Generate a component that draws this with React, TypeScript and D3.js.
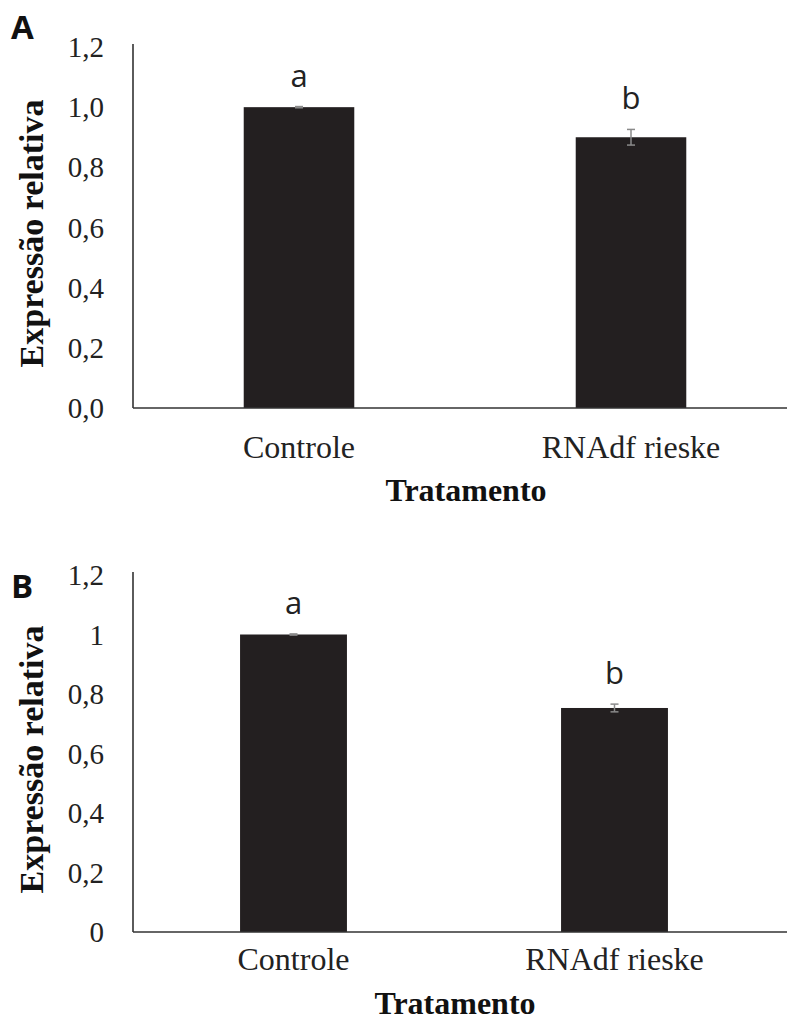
import { useEffect, useRef } from 'react';
import * as d3 from 'd3';

// shared categories
const categories = ['Controle', 'RNAdf rieske'];
const letters = ['a', 'b'];

// panel A
const valuesA = [1.0, 0.9];
const errorsA = [0.002, 0.026];
const ticksA = [0, 0.2, 0.4, 0.6, 0.8, 1.0, 1.2];
const tickLabelsA = ['0,0', '0,2', '0,4', '0,6', '0,8', '1,0', '1,2'];

// panel B
const valuesB = [1.0, 0.753];
const errorsB = [0.002, 0.013];
const ticksB = [0, 0.2, 0.4, 0.6, 0.8, 1.0, 1.2];
const tickLabelsB = ['0', '0,2', '0,4', '0,6', '0,8', '1', '1,2'];

const SERIF = '"Liberation Serif", "Times New Roman", serif';
const SANS = '"Open Sans", "Liberation Sans", sans-serif';

interface PanelCfg {
  tag: string;
  values: number[];
  errors: number[];
  ticks: number[];
  tickLabels: string[];
  top: number;     // y of 1.2
  base: number;    // y of 0
  xEnd: number;    // right end of category range
  tagY: number;
  catDy: number;
  titleDy: number;
}

function drawPanel(svg: d3.Selection<SVGSVGElement, unknown, null, undefined>, p: PanelCfg) {
  const x0 = 133;
  const x = d3.scaleBand<string>().domain(categories).range([x0, p.xEnd]).padding(0);
  const y = d3.scaleLinear().domain([0, 1.2]).range([p.base, p.top]);
  const bw = x.bandwidth() * 0.333;

  const g = svg.append('g');

  // panel tag
  g.append('text').attr('x', 11).attr('y', p.tagY).attr('font-family', SANS).attr('font-weight', 700)
    .attr('font-size', 33).attr('fill', '#111').text(p.tag);

  // bars
  categories.forEach((c, i) => {
    const cx = x(c)! + x.bandwidth() / 2;
    g.append('rect').attr('x', cx - bw / 2).attr('y', y(p.values[i]))
      .attr('width', bw).attr('height', p.base - y(p.values[i])).attr('fill', '#231f20');
    // error bar
    const e = p.errors[i];
    const hi = y(p.values[i] + e), lo = y(p.values[i] - e);
    g.append('line').attr('x1', cx).attr('x2', cx).attr('y1', hi).attr('y2', lo)
      .attr('stroke', '#8a8a8a').attr('stroke-width', 1.5);
    [hi, lo].forEach(yy => {
      g.append('line').attr('x1', cx - 4).attr('x2', cx + 4).attr('y1', yy).attr('y2', yy)
        .attr('stroke', '#8a8a8a').attr('stroke-width', 1.5);
    });
    // significance letter
    g.append('text').attr('x', cx).attr('y', hi - 20).attr('text-anchor', 'middle')
      .attr('font-family', SANS).attr('font-size', 31).attr('fill', '#222').text(letters[i]);
    // category label
    g.append('text').attr('x', cx).attr('y', p.base + p.catDy).attr('text-anchor', 'middle')
      .attr('font-family', SERIF).attr('font-size', 32).attr('fill', '#222').text(c);
  });

  // axes
  g.append('line').attr('x1', x0).attr('x2', x0).attr('y1', p.top - 3).attr('y2', p.base)
    .attr('stroke', '#333').attr('stroke-width', 1.6);
  g.append('line').attr('x1', x0).attr('x2', 800).attr('y1', p.base).attr('y2', p.base)
    .attr('stroke', '#333').attr('stroke-width', 1.6);

  // tick labels
  p.ticks.forEach((t, i) => {
    g.append('text').attr('x', 104).attr('y', y(t)).attr('dy', '0.35em').attr('text-anchor', 'end')
      .attr('font-family', SERIF).attr('font-size', 29).attr('fill', '#222').text(p.tickLabels[i]);
  });

  // axis titles
  const midY = (p.base + p.top) / 2 + 6;
  g.append('text').attr('transform', `translate(43,${midY}) rotate(-90)`).attr('text-anchor', 'middle')
    .attr('font-family', SERIF).attr('font-weight', 700).attr('font-size', 34).attr('fill', '#111')
    .text('Expressão relativa');
  g.append('text').attr('x', (x0 + p.xEnd) / 2 + 1).attr('y', p.base + p.titleDy).attr('text-anchor', 'middle')
    .attr('font-family', SERIF).attr('font-weight', 700).attr('font-size', 32).attr('fill', '#111')
    .text('Tratamento');
}

export default function App() {
  const svgRef = useRef<SVGSVGElement>(null);

  useEffect(() => {
    if (!svgRef.current) return;
    const svg = d3.select(svgRef.current);
    svg.selectAll('*').remove();
    drawPanel(svg, {
      tag: 'A', values: valuesA, errors: errorsA, ticks: ticksA, tickLabels: tickLabelsA,
      top: 47, base: 408, xEnd: 797, tagY: 39, catDy: 50, titleDy: 93,
    });
    drawPanel(svg, {
      tag: 'B', values: valuesB, errors: errorsB, ticks: ticksB, tickLabels: tickLabelsB,
      top: 575, base: 932, xEnd: 775, tagY: 598, catDy: 38, titleDy: 82,
    });
  }, []);

  return (
    <svg ref={svgRef} width={787} height={1024}
      style={{ position: 'absolute', left: 0, top: 0, background: '#fff' }} />
  );
}
